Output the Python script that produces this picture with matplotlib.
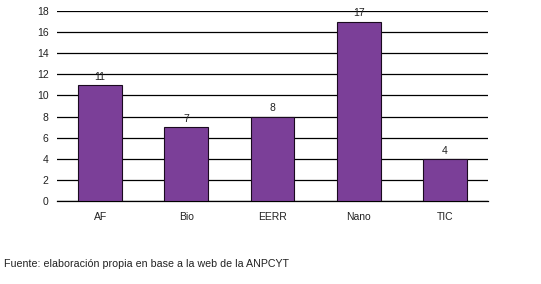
import matplotlib
matplotlib.use("Agg")
import matplotlib.pyplot as plt
import numpy as np

# data
categories = ["AF", "Bio", "EERR", "Nano", "TIC"]
values = [11, 7, 8, 17, 4]
y_ticks = list(range(0, 19, 2))
source_note = "Fuente: elaboración propia en base a la web de la ANPCYT"

plt.rcParams["font.family"] = ["Liberation Sans", "DejaVu Sans"]

fig = plt.figure(figsize=(5.41, 2.84), dpi=100)
ax = fig.add_axes([0.1054, 0.2923, 0.7966, 0.669])

x = np.arange(len(categories))
bars = ax.bar(x, values, width=0.51, color="#7B3F98", edgecolor="#1a0a1f",
              linewidth=0.8, zorder=3)

# value labels above bars
for b, v in zip(bars, values):
    ax.text(b.get_x() + b.get_width() / 2, v + 0.3, str(v),
            ha="center", va="bottom", fontsize=7.5, color="#222222")

ax.set_xlim(-0.5, len(categories) - 0.5)
ax.set_ylim(0, 18)
ax.set_yticks(y_ticks)
ax.set_xticks(x)
ax.set_xticklabels(categories)
ax.yaxis.grid(True, color="black", linewidth=0.9, zorder=0)
ax.tick_params(axis="both", length=0, labelsize=7.5, colors="#222222")
ax.tick_params(axis="y", pad=6)
ax.tick_params(axis="x", pad=8)
for s in ["top", "right", "left"]:
    ax.spines[s].set_visible(False)
ax.spines["bottom"].set_linewidth(0.9)

fig.text(0.008, 0.07, source_note, fontsize=7.7, color="#222222",
         ha="left", va="center")

fig.savefig("out.png", dpi=100)
